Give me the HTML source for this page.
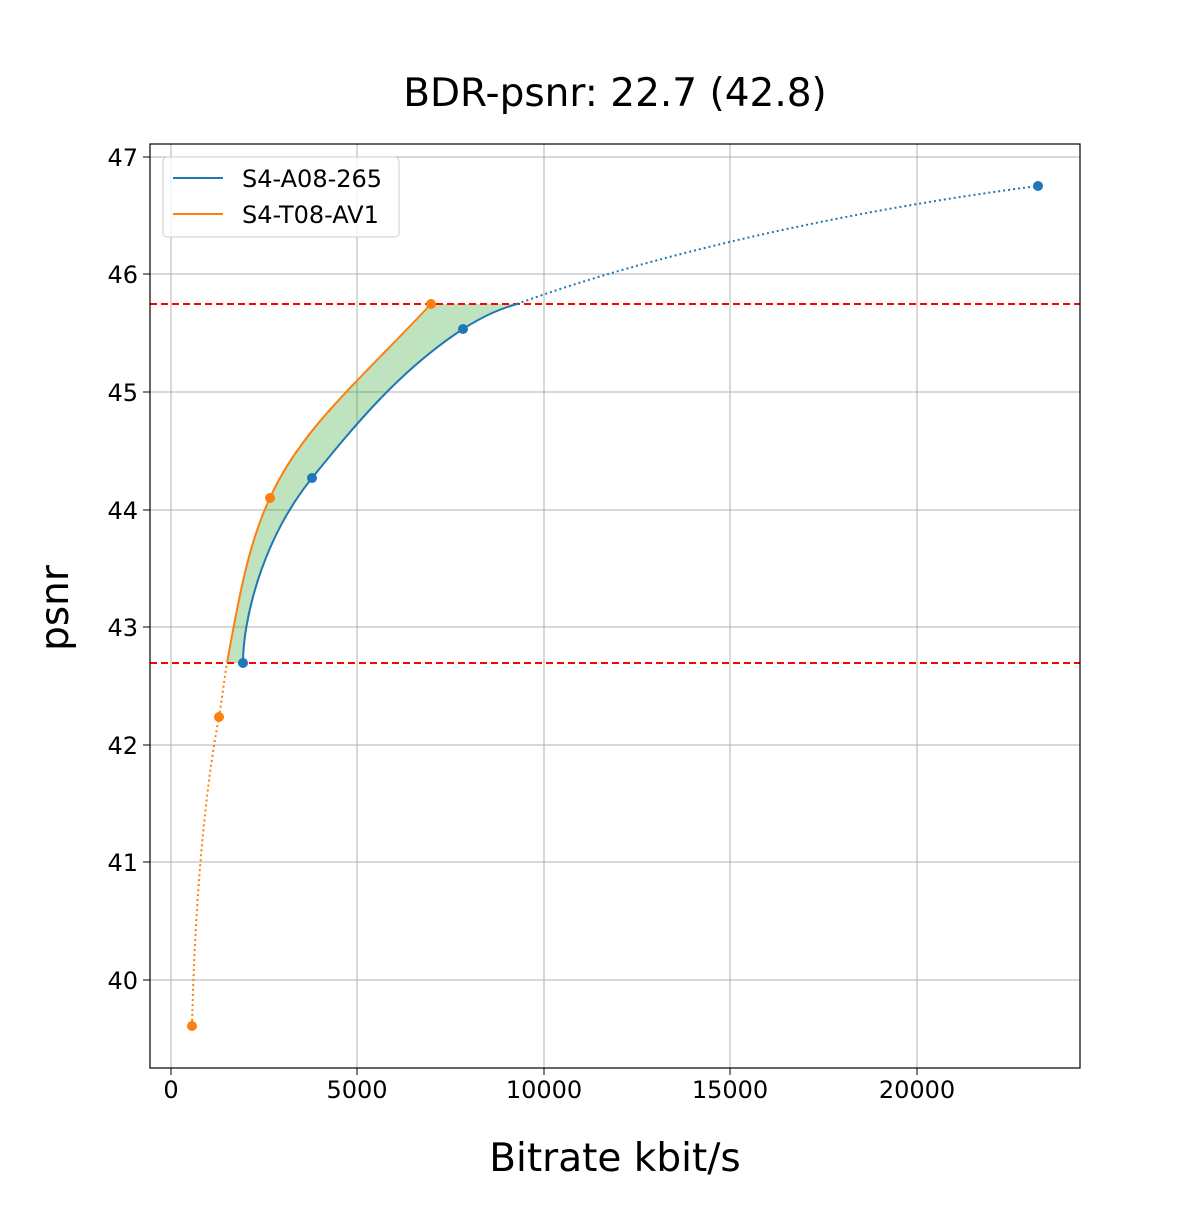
<!DOCTYPE html>
<html><head><style>body{margin:0;background:#fff}</style></head><body>
<svg width="1200" height="1200" xmlns="http://www.w3.org/2000/svg" font-family="DejaVu Sans, Liberation Sans, sans-serif">
<rect width="1200" height="1200" fill="#fff"/>
<g stroke="#b0b0b0" stroke-width="1">
<line x1="171" y1="144" x2="171" y2="1068"/><line x1="357" y1="144" x2="357" y2="1068"/><line x1="544" y1="144" x2="544" y2="1068"/><line x1="730" y1="144" x2="730" y2="1068"/><line x1="917" y1="144" x2="917" y2="1068"/>
<line x1="150" y1="157" x2="1080" y2="157"/><line x1="150" y1="274" x2="1080" y2="274"/><line x1="150" y1="392" x2="1080" y2="392"/><line x1="150" y1="510" x2="1080" y2="510"/><line x1="150" y1="627" x2="1080" y2="627"/><line x1="150" y1="745" x2="1080" y2="745"/><line x1="150" y1="862" x2="1080" y2="862"/><line x1="150" y1="980" x2="1080" y2="980"/>
</g>
<path fill="#2ca02c" fill-opacity="0.3" d="M227,663 C240,590 250,540 270,498 C300,430 360,380 431,304 L517,304 C500,309 485,315 463,329 C400,370 355,425 312,478 C262,540 243,620 243,663 Z"/>
<line x1="150" y1="304" x2="1080" y2="304" stroke="#ff0000" stroke-width="2" stroke-dasharray="7,4"/>
<line x1="150" y1="663" x2="1080" y2="663" stroke="#ff0000" stroke-width="2" stroke-dasharray="7,4"/>
<path fill="none" stroke="#1f77b4" stroke-width="2" d="M243,663 C243,620 262,540 312,478 C355,425 400,370 463,329 C485,315 500,309 517,304"/>
<path fill="none" stroke="#1f77b4" stroke-width="2" stroke-dasharray="2,3" d="M517,304 C650,255 850,210 1038,186"/>
<path fill="none" stroke="#ff7f0e" stroke-width="2" stroke-dasharray="2,3" d="M192,1026 C195,900 205,790 219,717 C222,700 224,680 227,663"/>
<path fill="none" stroke="#ff7f0e" stroke-width="2" d="M227,663 C240,590 250,540 270,498 C300,430 360,380 431,304"/>
<g fill="#1f77b4"><circle cx="243" cy="663" r="5"/><circle cx="312" cy="478" r="5"/><circle cx="463" cy="329" r="5"/><circle cx="1038" cy="186" r="5"/></g>
<g fill="#ff7f0e"><circle cx="192" cy="1026" r="5"/><circle cx="219" cy="717" r="5"/><circle cx="270" cy="498" r="5"/><circle cx="431" cy="304" r="5"/></g>
<rect x="150" y="144" width="930" height="924" fill="none" stroke="#000" stroke-width="1.2"/>
<g stroke="#000"><line x1="171" y1="1068" x2="171" y2="1075"/><line x1="357" y1="1068" x2="357" y2="1075"/><line x1="544" y1="1068" x2="544" y2="1075"/><line x1="730" y1="1068" x2="730" y2="1075"/><line x1="917" y1="1068" x2="917" y2="1075"/>
<line x1="143" y1="157" x2="150" y2="157"/><line x1="143" y1="274" x2="150" y2="274"/><line x1="143" y1="392" x2="150" y2="392"/><line x1="143" y1="510" x2="150" y2="510"/><line x1="143" y1="627" x2="150" y2="627"/><line x1="143" y1="745" x2="150" y2="745"/><line x1="143" y1="862" x2="150" y2="862"/><line x1="143" y1="980" x2="150" y2="980"/></g>
<g font-size="24" text-anchor="middle"><text x="171" y="1098">0</text><text x="357" y="1098">5000</text><text x="544" y="1098">10000</text><text x="730" y="1098">15000</text><text x="917" y="1098">20000</text></g>
<g font-size="24" text-anchor="end"><text x="138" y="166">47</text><text x="138" y="283">46</text><text x="138" y="401">45</text><text x="138" y="519">44</text><text x="138" y="636">43</text><text x="138" y="754">42</text><text x="138" y="871">41</text><text x="138" y="989">40</text></g>
<text x="615" y="106" font-size="39" text-anchor="middle">BDR-psnr: 22.7 (42.8)</text>
<text x="615" y="1171" font-size="39" text-anchor="middle">Bitrate kbit/s</text>
<text transform="translate(68,608) rotate(-90)" font-size="39" text-anchor="middle">psnr</text>
<rect x="163" y="157" width="236" height="80" rx="4" fill="#fff" fill-opacity="0.8" stroke="#ccc"/>
<line x1="173" y1="178" x2="223" y2="178" stroke="#1f77b4" stroke-width="2"/>
<line x1="173" y1="214" x2="223" y2="214" stroke="#ff7f0e" stroke-width="2"/>
<text x="242" y="187" font-size="24">S4-A08-265</text>
<text x="242" y="223" font-size="24">S4-T08-AV1</text>
</svg>
</body></html>
